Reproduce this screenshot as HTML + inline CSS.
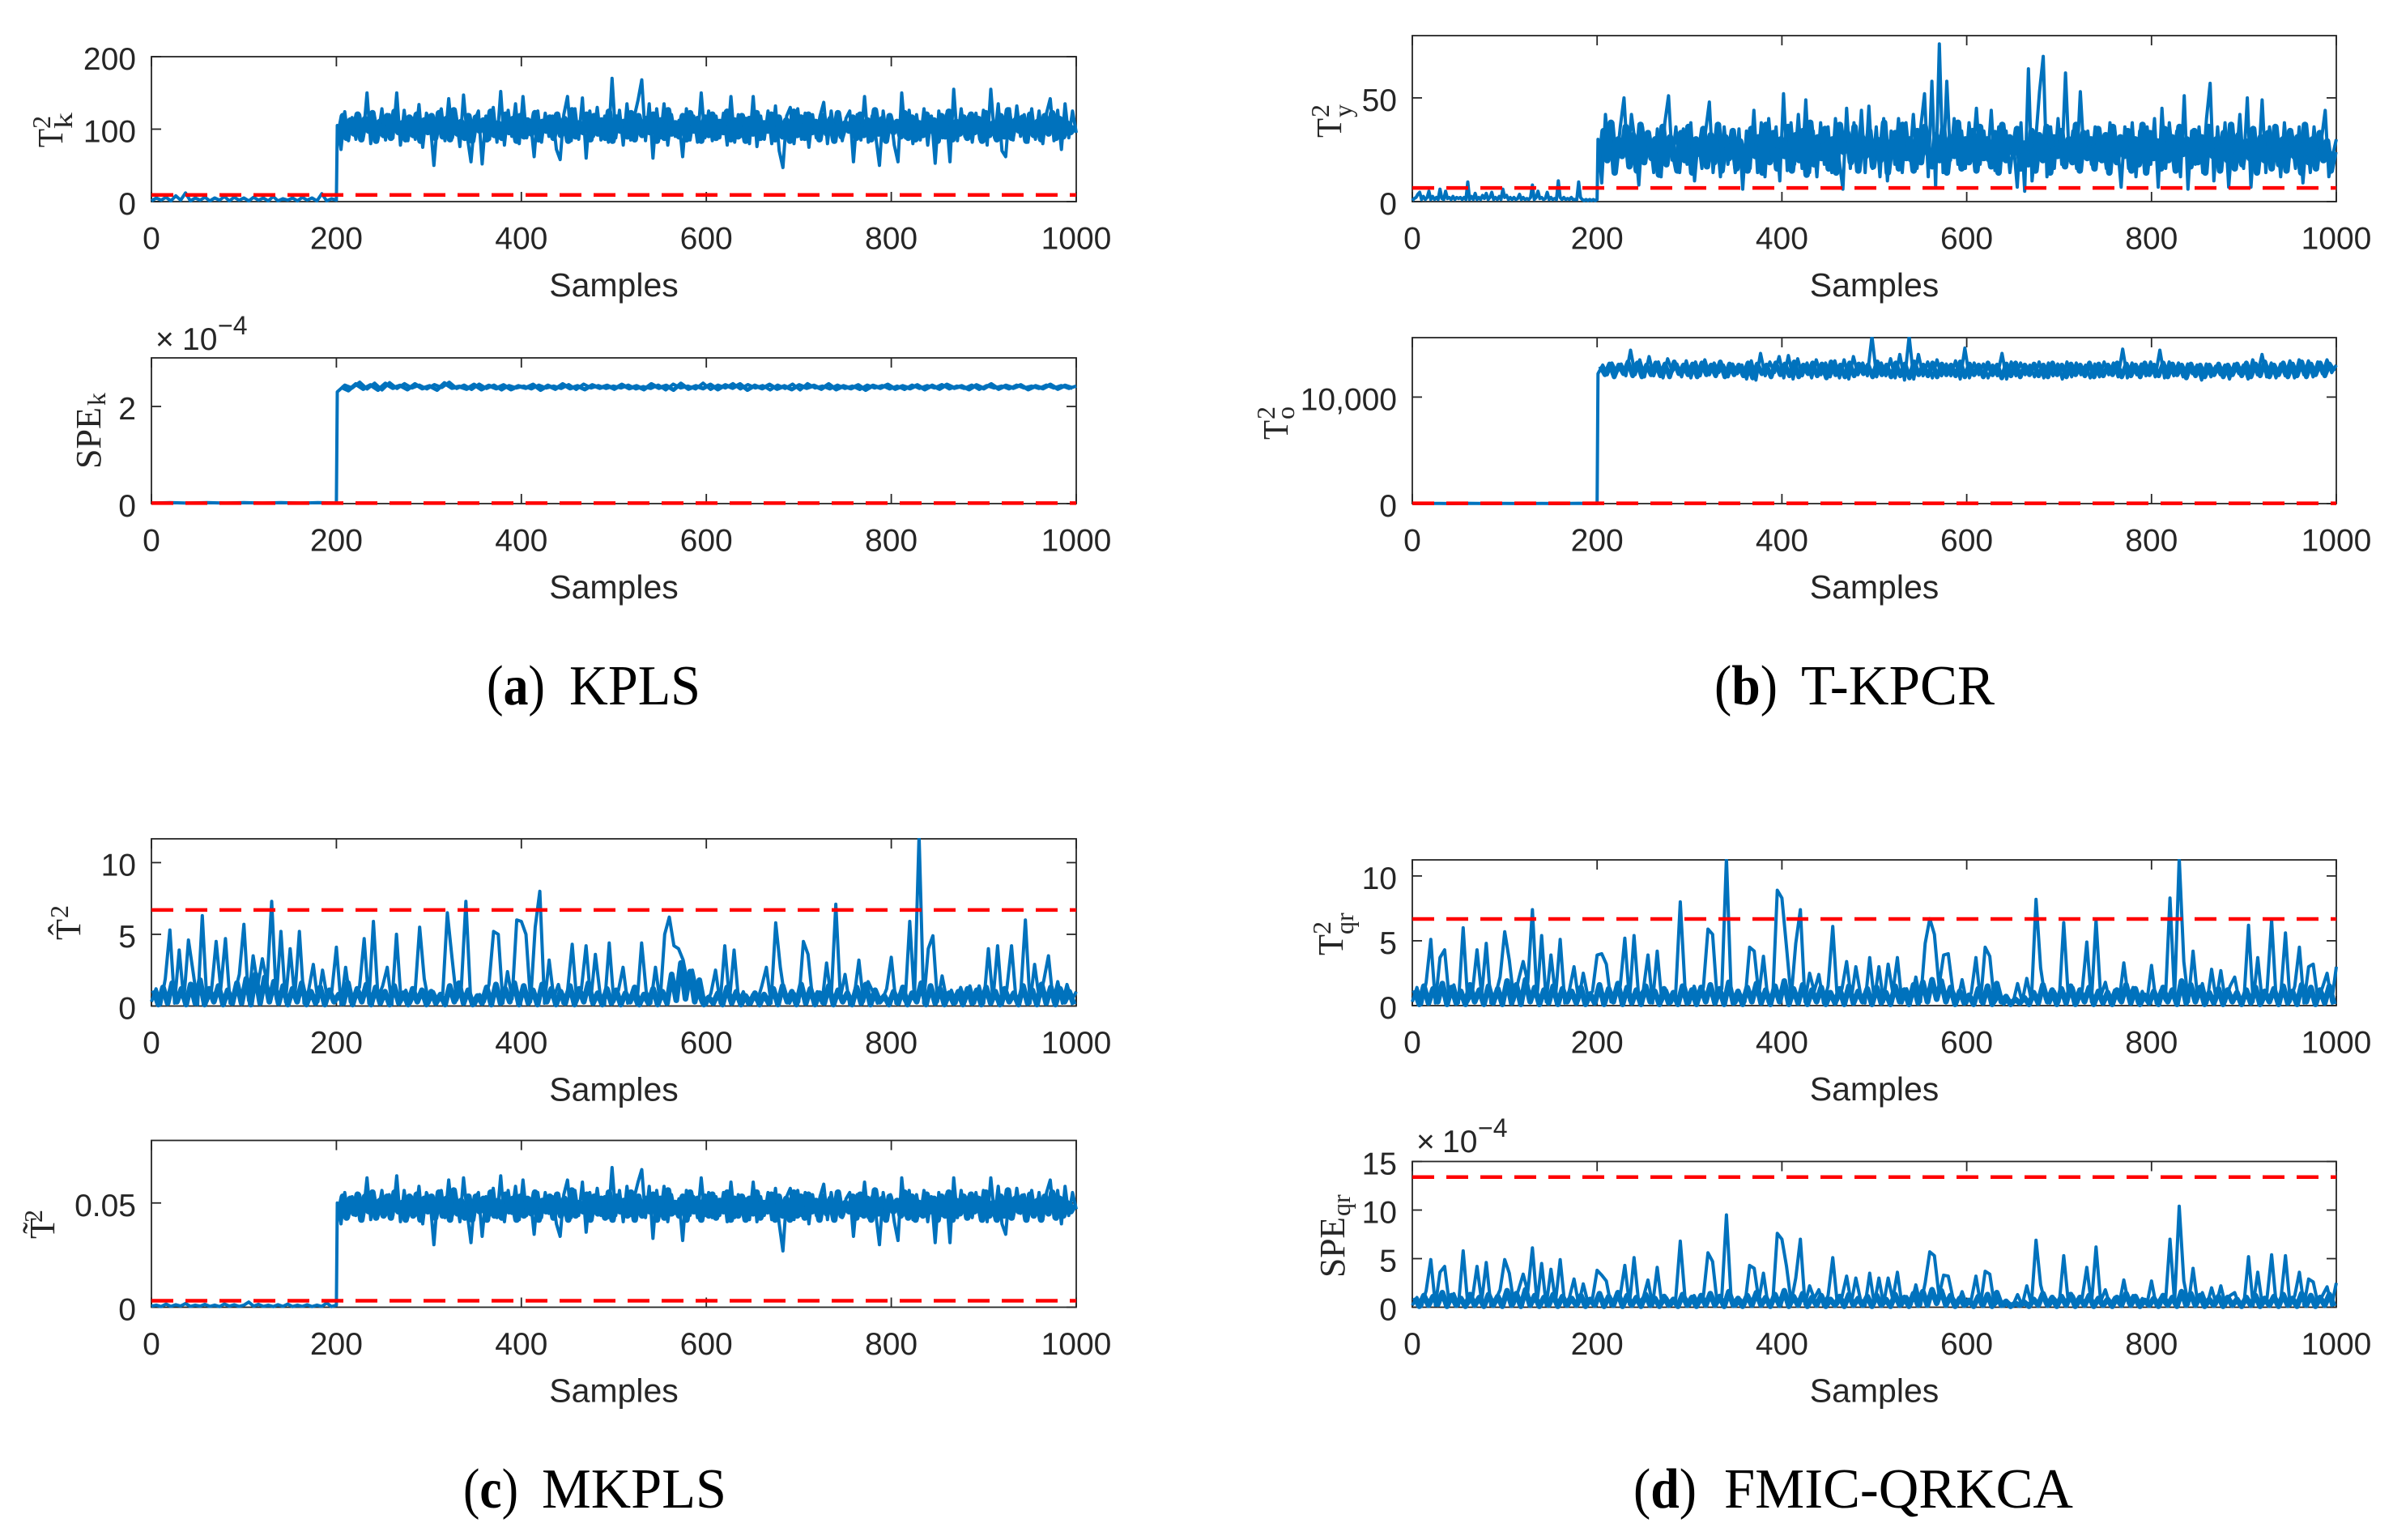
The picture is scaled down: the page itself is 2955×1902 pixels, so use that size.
<!DOCTYPE html>
<html lang="en">
<head>
<meta charset="utf-8">
<title>Fault detection monitoring charts</title>
<style>
html,body{margin:0;padding:0;background:#fff;}
svg{display:block;}
.ylab{font-family:"Liberation Serif",serif;fill:#262626;font-size:44px;}
.ysm{font-family:"Liberation Serif",serif;fill:#262626;font-size:32px;}
.cap{font-family:"Liberation Serif",serif;fill:#000;font-size:70px;}
.capb{font-weight:bold;}
.tick{font-family:"Liberation Sans",sans-serif;fill:#262626;font-size:39px;}
.xlab{font-family:"Liberation Sans",sans-serif;fill:#262626;font-size:41px;}
</style>
</head>
<body>
<svg id="figure" width="2955" height="1902" viewBox="0 0 2955 1902" xmlns="http://www.w3.org/2000/svg">
<rect width="2955" height="1902" fill="#fff"/>

<g>
<text class="ylab" transform="translate(77,182) rotate(-90)" textLength="23" lengthAdjust="spacingAndGlyphs">T</text>
<text class="ysm" transform="translate(62,159) rotate(-90)">2</text>
<text class="ysm" transform="translate(89,159) rotate(-90)" textLength="20" lengthAdjust="spacingAndGlyphs">k</text>
</g>
<g>
<text class="ylab" transform="translate(124,579) rotate(-90)" textLength="76" lengthAdjust="spacingAndGlyphs">SPE</text>
<text class="ysm" transform="translate(130,501) rotate(-90)" textLength="16" lengthAdjust="spacingAndGlyphs">k</text>
</g>
<g>
<text class="ylab" transform="translate(1656,170) rotate(-90)" textLength="24" lengthAdjust="spacingAndGlyphs">T</text>
<text class="ysm" transform="translate(1641,145) rotate(-90)">2</text>
<text class="ysm" transform="translate(1669,145) rotate(-90)">y</text>
</g>
<g>
<text class="ylab" transform="translate(1590,543) rotate(-90)" textLength="24" lengthAdjust="spacingAndGlyphs">T</text>
<text class="ysm" transform="translate(1574,518) rotate(-90)">2</text>
<text class="ysm" transform="translate(1598,518) rotate(-90)">o</text>
</g>
<g>
<text class="ylab" transform="translate(99,1161) rotate(-90)" textLength="26" lengthAdjust="spacingAndGlyphs">T&#770;</text>
<text class="ysm" transform="translate(84,1134) rotate(-90)">2</text>
</g>
<g>
<text class="ylab" transform="translate(67,1530) rotate(-90)" textLength="26" lengthAdjust="spacingAndGlyphs">T&#771;</text>
<text class="ysm" transform="translate(52,1510) rotate(-90)">2</text>
</g>
<g>
<text class="ylab" transform="translate(1658,1180) rotate(-90)" textLength="26" lengthAdjust="spacingAndGlyphs">T</text>
<text class="ysm" transform="translate(1643,1154) rotate(-90)">2</text>
<text class="ysm" transform="translate(1671,1154) rotate(-90)">qr</text>
</g>
<g>
<text class="ylab" transform="translate(1660,1578) rotate(-90)" textLength="75" lengthAdjust="spacingAndGlyphs">SPE</text>
<text class="ysm" transform="translate(1667,1502) rotate(-90)">qr</text>
</g>

<g>
<text class="tick" x="192" y="432">×</text><text class="tick" x="225" y="432">10</text>
<text class="tick" x="269" y="413" style="font-size:32px">−4</text>
</g>
<g>
<text class="tick" x="1749" y="1423">×</text><text class="tick" x="1781" y="1423">10</text>
<text class="tick" x="1825" y="1404" style="font-size:32px">−4</text>
</g>

<g>
<text class="cap" x="601" y="870" textLength="72" lengthAdjust="spacingAndGlyphs">(<tspan class="capb">a</tspan>)</text>
<text class="cap" x="703" y="870" textLength="162" lengthAdjust="spacingAndGlyphs">KPLS</text>
</g>
<g>
<text class="cap" x="2117" y="870" textLength="78" lengthAdjust="spacingAndGlyphs">(<tspan class="capb">b</tspan>)</text>
<text class="cap" x="2224" y="870" textLength="239" lengthAdjust="spacingAndGlyphs">T-KPCR</text>
</g>
<g>
<text class="cap" x="572" y="1862" textLength="68" lengthAdjust="spacingAndGlyphs">(<tspan class="capb">c</tspan>)</text>
<text class="cap" x="669" y="1862" textLength="228" lengthAdjust="spacingAndGlyphs">MKPLS</text>
</g>
<g>
<text class="cap" x="2017" y="1862" textLength="78" lengthAdjust="spacingAndGlyphs">(<tspan class="capb">d</tspan>)</text>
<text class="cap" x="2129" y="1862" textLength="431" lengthAdjust="spacingAndGlyphs">FMIC-QRKCA</text>
</g>
</svg>

<script>
// ---- shared axis data ----
const xTicks = [0, 200, 400, 600, 800, 1000];
const xTickLabels = ['0', '200', '400', '600', '800', '1000'];

// ---- panel (a) T2k ----
const t2kTicks = [0, 100, 200];
const t2kTickLabels = ['0', '100', '200'];
const t2kLimit = 9.2;
const t2kPre = [1,5,2,6,1,8,2,12,1,5,2,6,1,5,2,7,1,6,2,5,1,6,2,5,1,7,1,4,2,5,1,6,2,5,1,11,1,4,2];
const t2kPost = [105,72,124,84,116,86,120,90,150,80,118,92,128,85,120,88,150,78,126,84,
116,86,134,75,122,110,50,112,128,84,142,88,118,76,147,90,55,112,125,52,
118,86,130,82,152,78,126,90,135,80,145,88,112,62,125,82,122,90,118,72,
58,120,145,84,128,86,143,60,125,90,130,85,118,82,170,88,126,78,135,85,
118,140,168,84,135,60,128,88,135,78,120,90,112,62,128,85,118,82,150,88,
125,84,118,88,122,78,145,82,120,90,115,80,145,76,118,86,125,80,132,70,
47,118,130,80,128,86,122,75,120,88,118,137,80,125,90,118,84,115,125,55,
120,85,145,82,118,90,50,125,85,120,78,55,150,88,126,80,120,85,128,78,
118,53,125,88,120,55,155,84,128,90,118,82,122,86,126,78,155,88,135,70,
62,128,85,132,90,120,82,128,86,125,80,122,142,84,126,72,135,88,125,95];
const t2kDetail = [90,118,88,112,94,120,86,114,98,122,84,110,92,118,88,124,96,108,86,116,
92,120,84,112,96,118,88,122,90,114,86,126,94,110,88,118,84,116,98,112,
86,124,92,108,88,120,96,114,84,118,90,112,94,122,86,110,98,116,88,120,
92,114,84,126,90,108,96,120,86,118,94,112,88,124,84,116,98,110,90,122,
86,118,92,114,96,120,84,112,88,126,94,108,90,118,86,122,98,114,84,116,
92,120,88,110,96,124,86,112,90,118,84,114,94,122,88,108,98,120,86,116,
90,112,84,124,92,116,88,120,96,110,86,118,94,114,84,122,90,108,98,116,
88,120,92,112,86,126,94,114,84,118,96,110,90,122,88,116,86,108,92,120,
98,112,84,118,90,124,86,110,94,116,88,120,96,114,84,122,92,108,86,118,
90,126,88,112,98,116,84,120,92,110,86,118,94,122,88,114,90,108,96,104];

// ---- panel (a) SPEk, in units of 1e-4 ----
const spekTicks = [0, 2];
const spekTickLabels = ['0', '2'];
const spekLimit = 0.01;
const spekPre = [0.01,0.02,0.01,0.02,0.01,0.02,0.01,0.02,0.01,0.02,0.01];
const spekPost = [2.3,2.44,2.38,2.5,2.36,2.48,2.34,2.49,2.37,2.47,2.38,2.44,2.36,2.45,2.39,2.5,2.37,2.44,2.35,2.46,
2.37,2.44,2.34,2.43,2.38,2.42,2.36,2.44,2.38,2.42,2.37,2.45,2.35,2.46,2.38,2.43,2.37,2.42,2.38,2.44,
2.36,2.41,2.37,2.44,2.34,2.46,2.38,2.42,2.36,2.48,2.35,2.44,2.38,2.47,2.36,2.45,2.38,2.43,2.34,2.44,
2.37,2.46,2.34,2.47,2.38,2.42,2.36,2.44,2.37,2.42,2.35,2.44,2.38,2.43,2.36,2.42,2.35,2.44,2.37,2.43,
2.38,2.45,2.36,2.42,2.37,2.44,2.35,2.43,2.38,2.42,2.36,2.44,2.38,2.42,2.37,2.44,2.38,2.43,2.37,2.42];
const spekDetail = [2.4,2.33,2.46,2.36,2.44,2.34,2.47,2.38,2.43,2.35,2.46,2.37,2.42,2.34,2.48,2.38,2.41,2.36,2.45,2.35,
2.43,2.37,2.44,2.35,2.42,2.38,2.45,2.34,2.43,2.36,2.46,2.37,2.42,2.35,2.44,2.38,2.43,2.36,2.45,2.37,
2.42,2.35,2.46,2.38,2.43,2.34,2.47,2.36,2.42,2.37,2.45,2.35,2.44,2.38,2.46,2.34,2.43,2.37,2.45,2.36,
2.42,2.35,2.44,2.38,2.43,2.36,2.46,2.35,2.42,2.37,2.44,2.34,2.43,2.38,2.45,2.36,2.42,2.37,2.44,2.35,
2.43,2.36,2.45,2.38,2.42,2.35,2.44,2.37,2.46,2.36,2.43,2.38,2.44,2.35,2.42,2.37,2.45,2.36,2.43,2.38];

// ---- panel (b) T2y ----
const t2yTicks = [0, 50];
const t2yTickLabels = ['0', '50'];
const t2yLimit = 6.6;
const t2yPre = [.5,1.5,2,3.5,4.5,1,2.5,1,2,5,1,2.5,1,2,1,6,1.5,1,5,1.5,2,1,2.5,1,2,1.5,2,1,2,1,9.5,1,2.5,1,4,1,2,1,3,1.5,4,1,2,4.5,1,2,1,2.5,1,6,2,3,1,2,1,2,1,1.5,3.5,1,2,1,1.5,1,2,8,1,2,5,1.5,2,1,1.5,4.5,1,2,1,1.5,1,10,2,1,2,1,1.5,1,2,1,1,1,9.5,2,1,.5,1,.5,1,.5,1,.5,1];
const t2yPost = [30,9,42,22,38,18,36,50,20,42,28,8,36,22,30,14,35,12,38,51,
20,36,14,35,18,38,10,30,16,34,48,14,32,12,36,18,30,14,35,6,
34,16,44,14,38,12,40,20,36,10,52,15,38,18,42,16,49,14,34,12,
38,18,36,14,40,20,6,45,16,38,18,44,14,46,16,36,12,40,10,34,
18,40,14,38,20,42,16,36,52,12,58,7,76,14,58,20,40,18,34,16,
38,22,45,18,34,20,44,15,36,20,34,14,28,7,38,5,64,10,30,53,
70,12,36,16,40,18,62,20,34,16,53,22,34,18,36,20,30,16,38,22,
28,7,36,16,38,12,34,20,36,18,40,7,45,16,38,20,34,12,51,6,
34,18,36,14,40,57,10,36,16,38,7,30,20,42,16,50,7,34,18,49,
14,36,22,34,12,38,18,30,16,36,9,32,14,36,18,30,44,12,22,30];
const t2yDetail = [16,34,20,38,14,30,22,36,17,32,15,37,19,33,21,30,13,36,18,31,
24,15,33,20,36,14,30,23,35,17,32,19,37,15,31,21,34,16,29,20,
15,35,22,31,14,37,19,33,16,30,22,36,15,32,20,34,13,38,18,31,
21,35,16,30,14,37,24,33,19,36,15,31,22,34,17,30,20,38,14,29,
33,16,37,21,30,15,34,19,36,23,17,32,20,35,14,31,22,38,16,30,
19,34,15,36,21,30,17,33,14,37,20,31,23,35,16,28,18,34,15,32,
20,36,14,31,22,34,17,30,19,37,15,33,21,30,16,35,20,32,14,36,
19,31,22,34,15,30,18,37,14,33,21,29,16,35,20,31,15,36,23,30,
17,34,19,31,14,36,22,30,15,33,20,37,16,32,18,29,21,35,14,31,
20,33,16,36,18,30,15,34,22,31,14,37,19,30,16,33,20,29,15,24];

// ---- panel (b) T2o ----
const t2oTicks = [0, 10000];
const t2oTickLabels = ['0', '10,000'];
const t2oLimit = 30;
const t2oPre = [10,20,10,30,10,20,10,20,10,30,10];
const t2oPost = [12200,13000,12100,13200,12300,13100,12000,14400,12100,13500,11900,13800,12000,13300,11800,13600,12400,13100,11900,13400,
11800,13300,12000,13500,12100,13200,12300,13000,11900,13100,12200,13000,11700,13400,11600,14100,12000,13300,12300,13800,
11800,13900,11700,13600,12000,13200,11800,13500,12100,13200,11900,13400,11800,13500,11700,13800,12100,13200,12000,15700,
11900,13200,12000,13600,11800,14000,11600,15700,11700,14000,12000,13300,11800,13500,12000,13100,12000,13400,11700,14600,
11800,13200,12100,13100,11800,13000,12000,14100,11700,13300,12000,13200,12100,13000,11900,13300,11800,13200,12000,13100,
11700,13300,11900,13200,12100,13000,11800,13100,11900,13300,12100,13200,11900,14500,11800,13200,12100,13100,12000,13300,
11900,14400,11800,13300,12000,13200,11900,13100,12200,13000,11600,13100,11900,12900,12100,13000,11700,13100,12200,13000,
11700,13500,12100,14000,11900,13200,11800,13100,12000,13400,11800,13500,12100,13400,11900,13300,12200,13500,12300,13000];
const t2oDetail = [12900,12100,13100,11900,13000,12200,13300,12000,13200,11900,13000,12100,13200,12000,13100,11900,13300,12200,13000,12100,
13100,11900,13200,12100,13000,12000,13300,11900,13100,12100,13000,12000,13200,11800,13100,12200,13000,11900,13200,12100,
13100,12000,13300,11900,13000,12200,13200,12000,13100,11800,13300,12100,13000,11900,13200,12000,13100,12200,13000,11900,
13300,12100,13000,11900,13200,12000,13100,11800,13300,12100,13000,12000,13200,11900,13100,12100,13000,12000,13300,11900,
13100,12100,13000,11900,13200,12100,13000,11800,13100,12000,13200,11900,13000,12100,13100,12000,13000,11900,13200,12100,
13000,11900,13100,12100,13000,12000,13200,11900,13100,12000,13000,12100,13200,11900,13100,12000,13000,11900,13200,12100,
13000,12000,13200,11900,13100,12100,13000,11800,13100,12000,13000,11900,13000,12100,13100,11900,13000,12100,13100,12000,
13200,11900,13100,12000,13300,11900,13000,12100,13200,11900,13100,12000,13300,11900,13100,12100,13200,12000,13100,12400];

// ---- panel (c) T2 hat ----
const t2HatTicks = [0, 5, 10];
const t2HatTickLabels = ['0', '5', '10'];
const t2HatLimit = 6.7;
const t2HatValues = [.3,1.2,.1,1.9,5.3,.2,3.9,.4,4.6,2.4,.1,6.3,.3,1.1,4.5,1.2,4.7,.2,.9,2.2,
5.7,.4,3.5,1.4,3.3,1.6,7.3,.5,5.2,.3,4.0,.6,5.2,.2,1.1,2.9,.3,2.5,.6,1.0,
4.1,.1,2.7,.3,.9,1.3,4.7,.2,5.9,.6,1.4,2.7,.1,5.0,.3,1.1,.2,.9,5.5,1.9,
.2,1.0,.3,.8,6.5,3.4,.4,1.2,7.3,.7,.1,.8,.3,1.5,5.2,5.0,.2,2.4,.5,6.0,
5.9,5.0,.3,5.5,8.0,.2,3.2,.6,1.5,.2,1.1,4.3,.3,1.2,4.2,.4,3.6,.9,.1,4.4,
.3,1.1,2.7,.2,.9,.1,4.4,1.0,.2,2.7,.3,5.0,6.2,4.2,4.0,3.2,1.5,2.5,1.0,.2,
.1,.9,2.5,.2,4.2,.4,3.9,.3,1.0,.1,.8,.3,1.4,2.7,.2,5.8,2.7,.5,.2,.9,
.3,4.5,3.6,.4,1.0,.2,3.0,.5,7.1,.6,2.2,.1,.7,3.2,.3,1.7,1.0,.2,.4,1.2,
3.4,.2,1.0,.3,5.9,.5,11.9,.2,4.0,4.9,.3,2.1,.4,1.1,.2,1.3,.3,1.4,.2,1.4,
.2,4.0,.4,4.2,.1,1.2,4.2,.3,.9,6.0,.2,2.9,.5,1.8,3.5,.3,1.7,.2,1.5,.4,1.0];
const t2HatDetail = [1.1,.1,1.3,.2,1.6,.3,1.2,.1,1.5,.2,1.8,.1,1.2,.3,1.4,.1,1.1,.2,1.6,.2,
1.9,.1,2.2,.2,2.0,.3,1.7,.2,1.4,.1,1.2,.3,1.6,.1,1.0,.2,1.3,.1,1.1,.3,
.8,.2,1.6,.1,1.2,.3,1.5,.1,1.3,.2,1.0,.1,1.4,.2,.9,.1,1.2,.3,1.1,.1,
1.0,.2,.8,.1,1.4,.3,1.6,.2,1.1,.1,.7,.2,1.3,.1,1.5,.2,1.2,.3,1.6,.1,
1.4,.2,1.1,.1,1.5,.3,1.2,.1,1.0,.2,1.4,.1,1.2,.3,1.6,.2,.9,.1,1.2,.2,
1.1,.1,.9,.3,1.3,.1,.8,.2,1.2,.1,1.0,.2,2.2,.4,3.0,.5,2.4,.3,1.8,.1,
.6,.2,.9,.1,1.3,.2,1.0,.1,.7,.2,.9,.1,.8,.2,1.2,.1,1.4,.3,1.0,.1,
1.5,.2,1.2,.1,.9,.2,1.4,.1,1.1,.3,.9,.1,1.3,.2,1.5,.1,1.1,.3,.7,.1,
1.0,.2,1.3,.1,.9,.3,1.6,.1,1.4,.2,1.2,.1,.9,.2,1.0,.1,1.2,.2,1.1,.1,
1.3,.2,1.0,.1,1.2,.3,.9,.1,1.4,.2,1.1,.1,1.5,.2,1.3,.1,1.2,.3,1.0,.1];

// ---- panel (c) T2 tilde ----
const t2TildeTicks = [0, 0.05];
const t2TildeTickLabels = ['0', '0.05'];
const t2TildeLimit = 0.0031;
const t2TildePre = [.0005,.001,.0003,.0015,.0004,.0012,.0006,.0018,.0004,.001,.0005,.0014,.0004,.001,.0003,.0016,.0005,.0012,.0004,.001,.0025,.0005,.0014,.0004,.001,.0003,.0012,.0004,.0015,.0003,.001,.0004,.0012,.0003,.001,.0004,.002,.0003,.001];
const t2TildePost = [.05,.04,.055,.043,.053,.044,.054,.045,.062,.042,.053,.046,.056,.044,.054,.044,.063,.041,.056,.043,
.053,.044,.058,.04,.055,.051,.03,.052,.056,.043,.061,.044,.053,.041,.062,.045,.031,.052,.055,.034,
.053,.044,.057,.043,.063,.041,.056,.045,.058,.042,.061,.044,.052,.035,.055,.043,.055,.045,.053,.04,
.034,.054,.061,.043,.056,.044,.06,.036,.055,.045,.057,.044,.053,.043,.067,.044,.056,.041,.058,.044,
.053,.06,.066,.043,.058,.033,.056,.044,.058,.041,.054,.045,.052,.032,.056,.044,.053,.043,.062,.044,
.055,.043,.053,.044,.055,.041,.06,.043,.054,.045,.052,.042,.06,.041,.053,.044,.055,.042,.057,.04,
.027,.053,.057,.042,.056,.044,.055,.04,.054,.044,.053,.059,.042,.055,.045,.053,.043,.052,.055,.034,
.054,.044,.06,.043,.053,.045,.03,.055,.044,.054,.041,.032,.062,.044,.056,.042,.054,.044,.056,.041,
.053,.031,.055,.044,.054,.031,.062,.043,.056,.045,.053,.043,.055,.044,.056,.041,.062,.044,.058,.04,
.035,.056,.044,.057,.045,.054,.043,.056,.044,.055,.042,.055,.061,.043,.056,.04,.058,.044,.055,.047];
const t2TildeDetail = [.044,.053,.043,.052,.045,.054,.042,.053,.046,.055,.043,.051,.044,.053,.043,.055,.046,.05,.042,.053,
.044,.054,.042,.052,.046,.053,.043,.055,.044,.052,.042,.056,.045,.051,.043,.053,.042,.053,.046,.052,
.042,.055,.044,.051,.043,.054,.046,.052,.042,.053,.044,.052,.045,.055,.042,.051,.046,.053,.043,.054,
.044,.052,.042,.056,.044,.05,.046,.054,.042,.053,.045,.052,.043,.055,.042,.053,.046,.051,.044,.055,
.042,.053,.044,.052,.046,.054,.042,.052,.043,.056,.045,.05,.044,.053,.042,.055,.046,.052,.042,.053,
.044,.054,.043,.051,.046,.055,.042,.052,.044,.053,.042,.052,.045,.055,.043,.05,.046,.054,.042,.053,
.044,.052,.042,.055,.044,.053,.043,.054,.046,.051,.042,.053,.045,.052,.042,.055,.044,.05,.046,.053,
.043,.054,.044,.052,.042,.056,.045,.052,.042,.053,.046,.051,.044,.055,.043,.053,.042,.05,.044,.054,
.046,.052,.042,.053,.044,.055,.042,.051,.045,.053,.043,.054,.046,.052,.042,.055,.044,.05,.042,.053,
.044,.056,.043,.052,.046,.053,.042,.054,.044,.051,.042,.053,.045,.055,.043,.052,.044,.05,.046,.049];

// ---- panel (d) T2qr ----
const t2qrTicks = [0, 5, 10];
const t2qrTickLabels = ['0', '5', '10'];
const t2qrLimit = 6.68;
const t2qrValues = [.3,1.4,.1,1.8,5.1,.2,3.7,4.3,.5,1.6,.2,6.0,.3,1.0,4.3,.8,4.8,.2,.8,2.2,
5.7,3.5,.4,2.0,3.4,1.8,7.4,.6,5.4,.3,3.9,.7,5.1,.2,1.2,3.0,.4,2.5,.7,1.1,
3.9,4.0,3.2,.3,1.0,1.5,5.2,.4,5.4,.7,1.2,3.9,.2,4.2,.3,1.2,.2,.9,8.0,1.5,
.2,1.5,.4,1.4,5.9,5.5,.5,1.3,11.4,1.2,.2,.9,.3,4.5,4.2,.8,3.8,.3,.5,8.9,
8.3,4.5,.6,4.8,7.4,.3,2.5,1.1,2.4,.2,1.5,6.1,.4,1.3,3.4,.5,3.0,.9,.2,3.7,
.4,3.0,.3,3.2,1.0,3.7,.2,1.3,.4,2.2,.3,4.8,6.7,5.5,1.5,3.9,4.0,1.2,.3,2.0,
.2,1.0,3.7,.3,4.5,3.8,.2,.8,.1,.5,.2,1.7,.3,2.1,.4,8.2,2.9,.5,.2,1.1,
.3,6.4,.6,1.4,.2,1.2,4.9,.3,6.6,.7,1.8,.2,1.2,.4,3.3,.5,1.4,.2,1.1,.3,
3.1,.2,1.2,.4,8.3,.6,11.4,3.4,.3,4.2,.5,1.7,.2,2.8,.4,2.7,.3,1.5,2.2,.3,
.4,6.2,.3,3.7,.2,1.1,6.6,.4,.9,5.6,.3,1.5,4.5,.2,3.0,3.2,.5,1.4,2.5,.3,3.0];
const t2qrDetail = [1.2,.1,1.5,.2,1.3,.3,1.7,.1,1.4,.2,1.1,.1,1.6,.3,1.2,.1,1.5,.2,1.3,.1,
1.9,.2,1.6,.1,2.0,.3,1.4,.1,1.2,.2,1.5,.1,1.3,.3,1.1,.2,1.4,.1,.9,.2,
1.6,.1,1.3,.3,1.7,.1,1.4,.2,1.2,.1,1.5,.3,1.1,.1,1.3,.2,1.0,.1,1.5,.2,
1.2,.1,1.4,.3,1.6,.2,1.3,.1,1.8,.2,1.1,.1,1.4,.3,1.7,.2,1.2,.1,1.5,.3,
1.9,.1,1.3,.2,1.6,.1,1.2,.3,1.4,.1,1.0,.2,1.3,.1,1.5,.2,1.1,.3,1.3,.1,
1.4,.2,1.0,.1,1.5,.3,1.2,.1,1.6,.2,1.8,.3,2.0,.5,1.9,.3,1.4,.1,1.1,.2,
.8,.1,1.3,.2,1.5,.1,1.7,.3,.7,.1,.5,.2,.6,.1,1.0,.2,1.6,.3,1.2,.1,
1.3,.2,1.5,.1,1.2,.3,1.4,.1,1.1,.2,1.0,.1,1.2,.3,1.6,.2,1.3,.1,.8,.2,
1.1,.1,1.4,.3,1.2,.1,1.9,.2,1.6,.3,1.4,.1,1.0,.2,1.3,.1,1.2,.3,1.0,.1,
1.2,.2,1.4,.1,1.1,.3,1.3,.1,1.5,.2,1.1,.1,1.6,.3,1.4,.1,1.2,.2,1.5,.1];

// ---- panel (d) SPEqr, in units of 1e-4 ----
const speqrTicks = [0, 5, 10, 15];
const speqrTickLabels = ['0', '5', '10', '15'];
const speqrLimit = 13.4;
const speqrValues = [.2,1.0,.1,1.7,4.9,.2,3.6,4.2,.4,1.4,.2,5.8,.3,.9,4.2,.6,4.6,.2,.7,1.8,
4.9,3.5,.3,1.8,3.4,1.6,6.1,.5,4.5,.2,3.9,.6,4.9,.2,1.0,2.9,.3,2.4,.5,.9,
3.8,3.3,2.7,.2,.9,1.2,4.3,.3,5.1,.5,1.0,2.8,.2,4.1,.3,1.0,.2,.8,6.8,1.1,
.2,1.2,.3,1.1,5.6,4.7,.4,1.1,9.5,1.0,.1,.8,.3,4.3,4.0,.7,3.5,.2,.4,7.6,
7.0,4.2,.5,3.0,7.0,.3,2.2,.9,1.8,.2,1.2,5.1,.3,1.1,3.2,.4,3.0,.8,.2,3.5,
.3,3.0,.3,3.0,.8,3.6,.2,1.1,.3,2.3,.2,2.5,5.7,5.3,1.2,3.3,3.2,1.0,.2,1.6,
.2,.8,3.2,.3,3.7,3.4,.2,.7,.1,.5,.2,1.3,.2,2.2,.3,6.9,2.3,.4,.2,.9,
.3,5.3,.5,1.2,.2,1.0,4.1,.3,6.2,.6,1.8,.2,1.0,.3,2.8,.4,1.2,.2,.9,.3,
2.7,.2,1.0,.3,7.0,.5,10.4,2.7,.3,4.0,.4,1.5,.2,2.0,.3,2.2,.2,1.2,1.5,.2,
.3,5.2,.2,3.6,.2,.9,5.4,.3,.8,5.3,.2,1.2,3.6,.2,2.9,2.6,.4,1.2,2.1,.2,2.5];
const speqrDetail = [1.0,.1,1.2,.2,1.1,.3,1.5,.1,1.2,.2,.9,.1,1.3,.2,1.0,.1,1.3,.2,1.1,.1,
1.7,.2,1.4,.1,1.8,.2,1.2,.1,1.0,.2,1.3,.1,1.1,.2,.9,.2,1.2,.1,.8,.2,
1.4,.1,1.1,.2,1.5,.1,1.2,.2,1.0,.1,1.3,.2,.9,.1,1.1,.2,.8,.1,1.3,.2,
1.0,.1,1.2,.2,1.4,.2,1.1,.1,1.6,.2,.9,.1,1.2,.2,1.5,.2,1.0,.1,1.3,.2,
1.7,.1,1.1,.2,1.4,.1,1.0,.2,1.2,.1,.8,.2,1.1,.1,1.3,.2,.9,.2,1.1,.1,
1.2,.2,.8,.1,1.3,.2,1.0,.1,1.4,.2,1.6,.2,1.8,.4,1.7,.2,1.2,.1,.9,.2,
.7,.1,1.1,.2,1.3,.1,1.5,.2,.6,.1,.4,.2,.5,.1,.8,.2,1.4,.2,1.0,.1,
1.1,.2,1.3,.1,1.0,.2,1.2,.1,.9,.2,.8,.1,1.0,.2,1.4,.2,1.1,.1,.7,.2,
.9,.1,1.2,.2,1.0,.1,1.6,.2,1.4,.2,1.2,.1,.8,.2,1.1,.1,1.0,.2,.8,.1,
1.0,.2,1.2,.1,.9,.2,1.1,.1,1.3,.2,.9,.1,1.4,.2,1.2,.1,1.0,.2,1.3,.1];

const faultSample = 200;
const svgNS = 'http://www.w3.org/2000/svg';
const figure = document.getElementById('figure');
const leftCol = { left: 187, right: 1329 };
const rightCol = { left: 1744, right: 2885 };

const panels = [
  { id: 't2k', col: leftCol, top: 70, bottom: 249, yMax: 200, ticks: t2kTicks, labels: t2kTickLabels, limit: t2kLimit, pre: t2kPre, post: t2kPost, detail: t2kDetail, detailWidth: 8 },
  { id: 'spek', col: leftCol, top: 442, bottom: 622, yMax: 3, ticks: spekTicks, labels: spekTickLabels, limit: spekLimit, pre: spekPre, post: spekPost, detail: spekDetail, detailWidth: 5 },
  { id: 't2y', col: rightCol, top: 44, bottom: 249, yMax: 80, ticks: t2yTicks, labels: t2yTickLabels, limit: t2yLimit, pre: t2yPre, post: t2yPost, detail: t2yDetail, detailWidth: 8 },
  { id: 't2o', col: rightCol, top: 417, bottom: 622, yMax: 15580, ticks: t2oTicks, labels: t2oTickLabels, limit: t2oLimit, pre: t2oPre, post: t2oPost, detail: t2oDetail, detailWidth: 6 },
  { id: 't2-hat', col: leftCol, top: 1036, bottom: 1242.5, yMax: 11.66, ticks: t2HatTicks, labels: t2HatTickLabels, limit: t2HatLimit, whole: t2HatValues, detail: t2HatDetail, detailWidth: 7 },
  { id: 't2-tilde', col: leftCol, top: 1408.5, bottom: 1614.5, yMax: 0.08, ticks: t2TildeTicks, labels: t2TildeTickLabels, limit: t2TildeLimit, pre: t2TildePre, post: t2TildePost, detail: t2TildeDetail, detailWidth: 8 },
  { id: 't2qr', col: rightCol, top: 1062, bottom: 1242, yMax: 11.24, ticks: t2qrTicks, labels: t2qrTickLabels, limit: t2qrLimit, whole: t2qrValues, detail: t2qrDetail, detailWidth: 7 },
  { id: 'speqr', col: rightCol, top: 1434.5, bottom: 1614.5, yMax: 15, ticks: speqrTicks, labels: speqrTickLabels, limit: speqrLimit, whole: speqrValues, detail: speqrDetail, detailWidth: 7 }
];

function make(tag, attrs, parent) {
  const el = document.createElementNS(svgNS, tag);
  for (const k in attrs) el.setAttribute(k, attrs[k]);
  parent.appendChild(el);
  return el;
}

function samplePositions(p) {
  const out = [];
  if (p.whole) {
    p.whole.forEach((v, i) => out.push([1000 * i / (p.whole.length - 1), v]));
  } else {
    p.pre.forEach((v, i) => out.push([faultSample * i / (p.pre.length - 1), v]));
    p.post.forEach((v, i) => out.push([faultSample + 1 + (999 - faultSample) * i / (p.post.length - 1), v]));
  }
  return out;
}

function detailPositions(p) {
  const start = p.whole ? 0 : faultSample + 1;
  return p.detail.map((v, i) => [start + (1000 - start) * (i + 0.5) / p.detail.length, v]);
}

panels.forEach((p) => {
  const xAxis = (s) => p.col.left + (p.col.right - p.col.left) * s / 1000;
  const yAxis = (v) => p.bottom - (p.bottom - p.top) * v / p.yMax;
  const toPath = (pts) => pts.map((pt, i) => (i ? 'L' : 'M') + xAxis(pt[0]).toFixed(1) + ' ' + yAxis(pt[1]).toFixed(1)).join('');
  const w = p.col.right - p.col.left;

  const g = make('g', {}, figure);
  
  

  const clip = make('clipPath', { id: 'clip-' + p.id }, g);
  make('rect', { x: p.col.left - 4, y: p.top - 1, width: w + 6, height: p.bottom - p.top + 4 }, clip);

  const box = make('rect', { x: p.col.left, y: p.top, width: w, height: p.bottom - p.top, fill: 'none', stroke: '#262626', 'stroke-width': 1.8 }, g);
  
  

  xTicks.forEach((t, i) => {
    const x = xAxis(t);
    const topTick = make('line', { x1: x, x2: x, y1: p.top, y2: p.top + 12, stroke: '#262626', 'stroke-width': 1.8 }, g);
    
    
    const botTick = make('line', { x1: x, x2: x, y1: p.bottom, y2: p.bottom - 12, stroke: '#262626', 'stroke-width': 1.8 }, g);
    
    
    const lab = make('text', { class: 'tick', x: x, y: p.bottom + 58.5, 'text-anchor': 'middle' }, g);
    
    
    lab.textContent = xTickLabels[i];
  });

  p.ticks.forEach((t, i) => {
    const y = yAxis(t);
    const leftTick = make('line', { x1: p.col.left, x2: p.col.left + 12, y1: y, y2: y, stroke: '#262626', 'stroke-width': 1.8 }, g);
    
    
    const rightTick = make('line', { x1: p.col.right, x2: p.col.right - 12, y1: y, y2: y, stroke: '#262626', 'stroke-width': 1.8 }, g);
    
    
    const lab = make('text', { class: 'tick', x: p.col.left - 19, y: y + 16, 'text-anchor': 'end' }, g);
    
    
    lab.textContent = p.labels[i];
  });

  const xt = make('text', { class: 'xlab', x: (p.col.left + p.col.right) / 2, y: p.bottom + 117, 'text-anchor': 'middle' }, g);
  
  
  xt.textContent = 'Samples';

  const detailLine = make('path', { d: toPath(detailPositions(p)), fill: 'none', stroke: '#0072BD', 'stroke-width': p.detailWidth, 'stroke-linejoin': 'round', 'clip-path': 'url(#clip-' + p.id + ')' }, g);
  
  

  const line = make('path', { d: toPath(samplePositions(p)), fill: 'none', stroke: '#0072BD', 'stroke-width': 4, 'stroke-linejoin': 'round', 'clip-path': 'url(#clip-' + p.id + ')' }, g);
  
  

  const yl = yAxis(p.limit);
  const limit = make('line', { x1: xAxis(0), x2: xAxis(1000), y1: yl, y2: yl, stroke: '#FF0000', 'stroke-width': 4.5, 'stroke-dasharray': '27 15' }, g);
  
  
});
</script>
</body>
</html>
